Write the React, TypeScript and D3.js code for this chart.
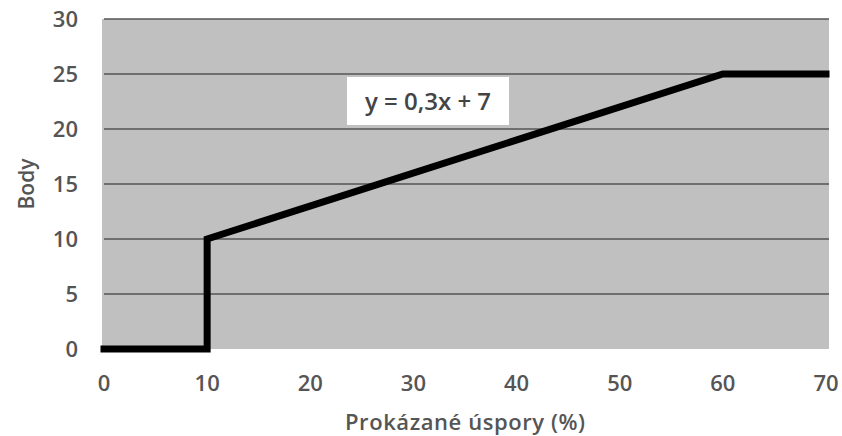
import React, { useEffect, useRef } from 'react';
import * as d3 from 'd3';

// data
const xValues = [0, 10, 10, 60, 70];
const yValues = [0, 0, 10, 25, 25];
const xTicks = [0, 10, 20, 30, 40, 50, 60, 70];
const yTicks = [0, 5, 10, 15, 20, 25, 30];
const equationLabel = 'y = 0,3x + 7';
const xTitle = 'Prokázané úspory (%)';
const yTitle = 'Body';

const W = 842;
const H = 436;

const App = () => {
  const ref = useRef<SVGSVGElement>(null);

  useEffect(() => {
    const svg = d3.select(ref.current);
    svg.selectAll('*').remove();

    const x = d3.scaleLinear().domain([0, 70]).range([104, 826]);
    const y = d3.scaleLinear().domain([0, 30]).range([349, 19]);
    const font = '"Open Sans", sans-serif';

    svg.append('rect').attr('width', W).attr('height', H).attr('fill', '#fff');

    // plot area
    svg.append('rect')
      .attr('x', 102).attr('y', y(30))
      .attr('width', 829 - 102).attr('height', y(0) - y(30))
      .attr('fill', '#c0c0c0');

    // grid lines
    svg.append('g').selectAll('line')
      .data(yTicks.filter(d => d > 0))
      .enter().append('line')
      .attr('x1', 104).attr('x2', 829)
      .attr('y1', d => y(d)).attr('y2', d => y(d))
      .attr('stroke', '#555').attr('stroke-width', 1.5);

    // y tick labels
    svg.append('g').selectAll('text')
      .data(yTicks)
      .enter().append('text')
      .attr('x', 78).attr('y', d => y(d))
      .attr('dy', '0.36em')
      .attr('text-anchor', 'end')
      .attr('font-family', font).attr('font-weight', 600)
      .attr('font-size', 22).attr('fill', '#555')
      .text(d => d);

    // x tick labels
    svg.append('g').selectAll('text')
      .data(xTicks)
      .enter().append('text')
      .attr('x', d => x(d)).attr('y', 391)
      .attr('text-anchor', 'middle')
      .attr('font-family', font).attr('font-weight', 600)
      .attr('font-size', 22).attr('fill', '#555')
      .text(d => d);

    // axis titles
    svg.append('text')
      .attr('x', 465).attr('y', 430)
      .attr('text-anchor', 'middle')
      .attr('font-family', font).attr('font-weight', 600)
      .attr('font-size', 22).attr('fill', '#555')
      .attr('textLength', 240)
      .text(xTitle);

    svg.append('text')
      .attr('transform', `translate(34,${y(15)}) rotate(-90)`)
      .attr('text-anchor', 'middle')
      .attr('font-family', font).attr('font-weight', 600)
      .attr('font-size', 21).attr('fill', '#555')
      .text(yTitle);

    // equation label
    svg.append('rect')
      .attr('x', 347).attr('y', 77).attr('width', 162).attr('height', 48)
      .attr('fill', '#fff');
    svg.append('text')
      .attr('x', 428).attr('y', 101)
      .attr('dy', '0.36em')
      .attr('text-anchor', 'middle')
      .attr('font-family', font).attr('font-weight', 600)
      .attr('font-size', 24).attr('fill', '#444')
      .text(equationLabel);

    // series line
    const pts = xValues.map((v, i) => [v, yValues[i]] as [number, number]);
    const line = d3.line<[number, number]>()
      .x(d => x(d[0]))
      .y(d => y(d[1]));
    svg.append('path')
      .datum(pts)
      .attr('d', line)
      .attr('fill', 'none')
      .attr('stroke', '#000')
      .attr('stroke-width', 7)
      .attr('stroke-linecap', 'square')
      .attr('stroke-linejoin', 'miter');
  }, []);

  return <svg ref={ref} width={W} height={H} style={{ position: 'absolute', left: 0, top: 0 }} />;
};

export default App;
